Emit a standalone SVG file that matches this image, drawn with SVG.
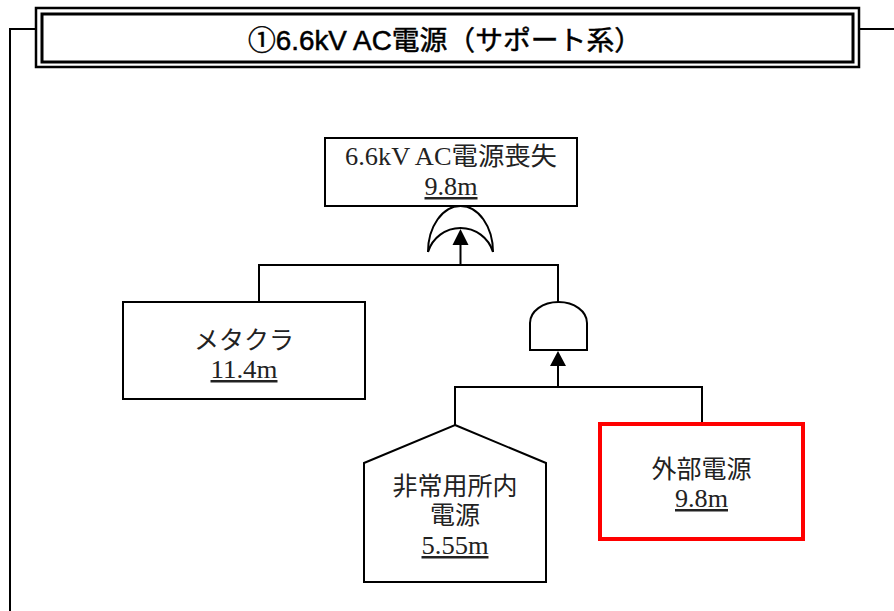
<svg xmlns="http://www.w3.org/2000/svg" width="894" height="611" viewBox="0 0 894 611">
<style>
.ln{fill:none;stroke:#000;stroke-width:2}
.box{fill:#fff;stroke:#000;stroke-width:2}
.t{font-family:"Liberation Serif","Noto Sans CJK JP",serif;font-size:25px;fill:#222;text-anchor:middle}
.u{text-decoration:underline}
.title{font-family:"Liberation Sans","Noto Sans CJK JP",sans-serif;font-size:27px;fill:#000;stroke:#000;stroke-width:0.5;text-anchor:middle}
.ah{fill:#000;stroke:none}
</style>
<rect width="894" height="611" fill="#fff"/>
<g id="frame">
<polyline class="ln" points="36,29 10,29 10,611"/>
<line class="ln" x1="859" y1="29" x2="894" y2="29"/>
</g>
<g id="title">
<rect x="36" y="8" width="823" height="59" fill="#fff" stroke="#000" stroke-width="2.5"/>
<rect x="42" y="14" width="811" height="48" fill="none" stroke="#000" stroke-width="3"/>
<text class="title" x="445" y="50" textLength="394" lengthAdjust="spacingAndGlyphs">①6.6kV AC電源（サポート系）</text>
</g>
<g id="connectors">
<line class="ln" x1="460.5" y1="265" x2="460.5" y2="244"/>
<polygon class="ah" points="460.5,229 452.5,245 468.5,245"/>
<polyline class="ln" points="259,302 259,265 558,265 558,302"/>
<line class="ln" x1="558" y1="387" x2="558" y2="364"/>
<polygon class="ah" points="558,351 550,366 566,366"/>
<polyline class="ln" points="455,425 455,387 702,387 702,424"/>
</g>
<g id="top-event">
<rect class="box" x="325" y="138" width="252" height="68"/>
<text class="t" x="451" y="165" textLength="212" lengthAdjust="spacingAndGlyphs">6.6kV AC電源喪失</text>
<text class="t u" x="451" y="195" textLength="53" lengthAdjust="spacingAndGlyphs">9.8m</text>
</g>
<g id="or-gate">
<path class="ln" d="M428,252 A32.5,46 0 0 1 493,252"/>
<path class="ln" d="M428,252 A34,34 0 0 1 493,252"/>
</g>
<g id="metakura">
<rect class="box" x="123" y="302" width="242" height="97"/>
<text class="t" x="244" y="349">メタクラ</text>
<text class="t u" x="244" y="378" textLength="67" lengthAdjust="spacingAndGlyphs">11.4m</text>
</g>
<g id="and-gate">
<path class="box" d="M530,350 L530,323 A28.5,21 0 0 1 587,323 L587,350 Z"/>
</g>
<g id="hijo">
<polygon class="box" points="455,425 546,463 546,582 364,582 364,463"/>
<text class="t" x="455" y="495">非常用所内</text>
<text class="t" x="455" y="524">電源</text>
<text class="t u" x="455" y="554" textLength="67" lengthAdjust="spacingAndGlyphs">5.55m</text>
</g>
<g id="gaibu">
<rect x="600" y="424" width="203" height="115" fill="#fff" stroke="#f00" stroke-width="4"/>
<text class="t" x="701.5" y="478">外部電源</text>
<text class="t u" x="701.5" y="507" textLength="53" lengthAdjust="spacingAndGlyphs">9.8m</text>
</g>
</svg>
